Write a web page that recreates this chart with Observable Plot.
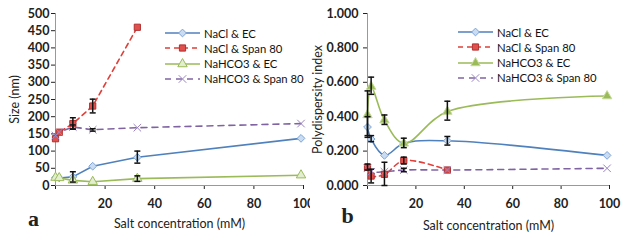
<!DOCTYPE html>
<html>
<head>
<meta charset="utf-8">
<script src="https://cdn.jsdelivr.net/npm/d3@7"></script>
<script src="https://cdn.jsdelivr.net/npm/@observablehq/plot@0.6"></script>
<style>
  body { margin: 0; background: white; }
  #wrap { position: relative; width: 629px; height: 245px; overflow: hidden; background: white; }
  .panel { position: absolute; top: 0; }
  .legend { position: absolute; font-family: Lato, "Open Sans", sans-serif; font-size: 11.3px; color: #111; }
  .legend .row { position: absolute; left: 0; height: 14px; white-space: nowrap; display: flex; align-items: center; }
  .legend svg { display: block; margin-right: 4px; }
</style>
</head>
<body>
<div id="wrap"></div>
<script>
// ---- Data ----
const seriesNames = ["NaCl & EC", "NaCl & Span 80", "NaHCO3 & EC", "NaHCO3 & Span 80"];
const saltConc = [0, 1.5, 7, 15, 33, 99];

// Panel a: size (nm)
const sizeNaClEC = [23, 22, 25, 56, 82, 137];
const sizeNaClSpan = [136, 155, 180, 231, 460];
const sizeNaHCO3EC = [23, 22, 15, 11, 20, 30];
const sizeNaHCO3Span = [145, 155, 170, 162, 168, 180];

const sizeErrSeries = ["NaCl & EC", "NaCl & EC", "NaCl & Span 80", "NaCl & Span 80", "NaHCO3 & EC", "NaHCO3 & Span 80", "NaHCO3 & Span 80"];
const sizeErrX = [7, 33, 7, 15, 33, 7, 15];
const sizeErrLow = [10, 65, 164, 211, 12, 164, 158];
const sizeErrHigh = [40, 100, 197, 251, 28, 176, 165];

// Panel b: polydispersity index
const pdiNaClEC = [0.34, 0.27, 0.175, 0.245, 0.26, 0.175];
const pdiNaClSpan = [0.105, 0.055, 0.065, 0.145, 0.09];
const pdiNaHCO3EC = [0.41, 0.575, 0.38, 0.245, 0.43, 0.52];
const pdiNaHCO3Span = [0.10, 0.08, 0.08, 0.09, 0.09, 0.10];

const pdiErrSeries = ["NaHCO3 & EC", "NaHCO3 & EC", "NaHCO3 & EC", "NaHCO3 & EC", "NaHCO3 & EC", "NaCl & EC", "NaCl & EC", "NaCl & EC", "NaCl & Span 80", "NaCl & Span 80", "NaCl & Span 80", "NaCl & Span 80", "NaHCO3 & Span 80"];
const pdiErrX = [0, 1.5, 7, 15, 33, 0, 1.5, 33, 0, 1.5, 7, 15, 15];
const pdiErrLow = [0.28, 0.53, 0.355, 0.22, 0.38, 0.29, 0.255, 0.235, 0.09, 0.015, 0.0, 0.125, 0.08];
const pdiErrHigh = [0.55, 0.63, 0.41, 0.275, 0.49, 0.40, 0.29, 0.285, 0.125, 0.095, 0.135, 0.165, 0.10];

const sizeTicks = [0, 50, 100, 150, 200, 250, 300, 350, 400, 450, 500];
const pdiTicks = [0, 0.2, 0.4, 0.6, 0.8, 1.0];
const xTicks = [0, 20, 40, 60, 80, 100];

// ---- Styles ----
const styles = {
  "NaCl & EC":        {stroke: "#4F81BD", dash: null,  symbol: "diamond2", fill: "#c9dcf2", mstroke: "#7fa6d6", r: 3.5},
  "NaCl & Span 80":   {stroke: "#E0403A", dash: "5,4", symbol: "square",   fill: "#e0504d", mstroke: "#b03030", r: 3.5},
  "NaHCO3 & EC":      {stroke: "#9BBB59", dash: null,  symbol: "triangle", fill: "#e3edcf", mstroke: "#9BBB59", r: 3.5},
  "NaHCO3 & Span 80": {stroke: "#8064A2", dash: "6,5", symbol: "times",    fill: "none",    mstroke: "#9a84c0", r: 3.5}
};

function tidy(values) {
  const out = [];
  values.forEach((vals, i) => vals.forEach((v, j) => out.push({series: seriesNames[i], x: saltConc[j], y: v})));
  return out;
}
function errTidy(s, xs, lo, hi) {
  return s.map((name, i) => ({series: name, x: xs[i], lo: lo[i], hi: hi[i]}));
}

const capSymbol = { draw(ctx) { ctx.moveTo(-3, 0); ctx.lineTo(3, 0); } };

function panel({data, err, width, marginLeft, marginRight, yDomain, yTicks, yFormat, curve, yTitle, yTitleDx, letter, letterDx, letterDy, xTitleDy, yPad, triFill}) {
  const marks = [
    Plot.ruleY([yDomain[0]], {stroke: "#999"}),
    Plot.ruleX([0], {stroke: "#999"})
  ];
  for (const name of seriesNames) {
    const st = styles[name];
    const d = data.filter(r => r.series === name);
    marks.push(Plot.line(d, {x: "x", y: "y", stroke: st.stroke, strokeWidth: 1.6, strokeDasharray: st.dash, curve}));
  }
  for (const name of seriesNames) {
    const st = styles[name];
    const d = data.filter(r => r.series === name);
    let fill = st.fill, mstroke = st.mstroke;
    if (name === "NaHCO3 & EC" && triFill) { fill = "#9BBB59"; mstroke = "#c5da98"; }
    marks.push(Plot.dot(d, {x: "x", y: "y", symbol: st.symbol, r: st.r, fill, stroke: mstroke, strokeWidth: 1}));
  }
  marks.push(Plot.ruleX(err, {x: "x", y1: "lo", y2: "hi", stroke: "#111", strokeWidth: 1.5}));
  marks.push(Plot.dot(err, {x: "x", y: "lo", symbol: capSymbol, stroke: "#111", strokeWidth: 1.5, fill: "none"}));
  marks.push(Plot.dot(err, {x: "x", y: "hi", symbol: capSymbol, stroke: "#111", strokeWidth: 1.5, fill: "none"}));
  marks.push(Plot.text(["Salt concentration (mM)"], {text: d => d, frameAnchor: "bottom", textAnchor: "middle", lineAnchor: "middle", dy: xTitleDy, fontWeight: "normal", fontSize: 12.5}));
  marks.push(Plot.text([yTitle], {text: d => d, frameAnchor: "left", textAnchor: "middle", lineAnchor: "middle", dx: yTitleDx, rotate: -90, fontWeight: "normal", fontSize: 12.5}));
  marks.push(Plot.text([letter], {text: d => d, frameAnchor: "bottom-left", textAnchor: "middle", lineAnchor: "middle", dx: letterDx, dy: letterDy, fontWeight: "bold", fontSize: 22, fontFamily: "'Liberation Serif', serif"}));
  return Plot.plot({
    width, height: 245,
    marginLeft, marginRight, marginTop: 13, marginBottom: 60,
    style: {fontFamily: "Lato, 'Open Sans', sans-serif", fontSize: "12.5px", fontWeight: "bold", background: "white", overflow: "hidden", color: "#222"},
    x: {domain: [0, 100], ticks: xTicks, tickFormat: v => v === 0 ? "" : String(v), tickSize: 4, tickPadding: 10, label: null},
    y: {domain: yDomain, ticks: yTicks, tickFormat: yFormat, tickSize: 4, tickPadding: yPad, label: null},
    marks
  });
}

const wrap = document.getElementById("wrap");

const left = panel({
  data: tidy([sizeNaClEC, sizeNaClSpan, sizeNaHCO3EC, sizeNaHCO3Span]),
  err: errTidy(sizeErrSeries, sizeErrX, sizeErrLow, sizeErrHigh),
  width: 310, marginLeft: 55, marginRight: 7,
  yDomain: [0, 500], yTicks: sizeTicks, yFormat: v => String(v), curve: "linear",
  yTitle: "Size (nm)", yTitleDx: -41, letter: "a", letterDx: -22, letterDy: 33, xTitleDy: 38, yPad: 2, triFill: false
});
const right = panel({
  data: tidy([pdiNaClEC, pdiNaClSpan, pdiNaHCO3EC, pdiNaHCO3Span]),
  err: errTidy(pdiErrSeries, pdiErrX, pdiErrLow, pdiErrHigh),
  width: 319, marginLeft: 57, marginRight: 20,
  yDomain: [0, 1], yTicks: pdiTicks, yFormat: v => v.toFixed(3), curve: "catmull-rom",
  yTitle: "Polydispersity index", yTitleDx: -50, letter: "b", letterDx: -20, letterDy: 30, xTitleDy: 40, yPad: 5, triFill: true
});

const pl = document.createElement("div"); pl.className = "panel"; pl.style.left = "0px"; pl.appendChild(left); wrap.appendChild(pl);
const pr = document.createElement("div"); pr.className = "panel"; pr.style.left = "310px"; pr.appendChild(right); wrap.appendChild(pr);

function legend(leftPx, topPx, rowGap, triFill) {
  const lg = d3.select(wrap).append("div").attr("class", "legend").style("left", leftPx + "px").style("top", topPx + "px");
  seriesNames.forEach((name, i) => {
    const st = styles[name];
    const row = lg.append("div").attr("class", "row").style("top", (i * rowGap) + "px");
    const svg = row.append("svg").attr("width", 35).attr("height", 14);
    svg.append("line").attr("x1", 0).attr("x2", 35).attr("y1", 7).attr("y2", 7)
      .attr("stroke", st.stroke).attr("stroke-width", 1.6).attr("stroke-dasharray", st.dash);
    const symMap = {diamond2: d3.symbolDiamond2, square: d3.symbolSquare, triangle: d3.symbolTriangle, times: d3.symbolTimes};
    let fill = st.fill, ms = st.mstroke;
    if (name === "NaHCO3 & EC" && triFill) { fill = "#9BBB59"; ms = "#c5da98"; }
    svg.append("path").attr("transform", "translate(17.5,7)").attr("d", d3.symbol(symMap[st.symbol], Math.PI * st.r * st.r)())
      .attr("fill", fill).attr("stroke", ms);
    row.append("span").text(name);
  });
}
legend(165, 26, 15.3, false);
legend(458, 25, 15.3, true);
</script>
</body>
</html>
